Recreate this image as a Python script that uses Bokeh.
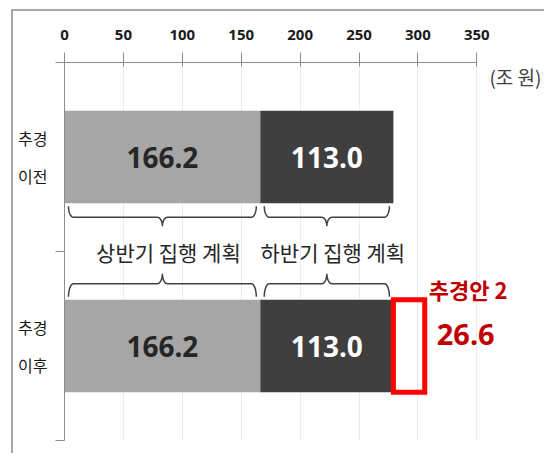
import numpy as np
from bokeh.plotting import figure
from bokeh.models import Range1d, FixedTicker
from bokeh.core.properties import value
from bokeh.embed import file_html
from bokeh.resources import INLINE

# ---------------- data ----------------
cat_line1 = ["추경", "추경"]
cat_line2 = ["이전", "이후"]
first_half = [166.2, 166.2]     # 상반기 집행 계획
second_half = [113.0, 113.0]    # 하반기 집행 계획
supplement = [0.0, 26.6]        # 추경안 2 (only after)
x_ticks = [0, 50, 100, 150, 200, 250, 300, 350]
unit_label = "(조 원)"
segment_names = ["상반기 집행 계획", "하반기 집행 계획"]
supp_name = "추경안 2"

# ---------------- layout ----------------
W, H = 533, 444
ML, MT, MR, MB = 51, 51, 0, 15
FW, FH = W - ML - MR, H - MT - MB
SX = 1.178                # desired px per x unit
X_END = FW / SX
sx = FW / X_END
sy = FH / 2.0            # px per y unit
ypos = [1.5, 0.5]        # bar centres (이전 at top)
BAR_H = 0.49

KR_S = "Noto Sans CJK KR"
NUM_S = "Noto Sans"
KR = value(KR_S)
NUM = value(NUM_S)

p = figure(width=W, height=H, x_range=Range1d(0, X_END), y_range=Range1d(0, 2),
           x_axis_location="above", output_backend="svg", toolbar_location=None,
           min_border_left=ML, min_border_top=MT, min_border_right=MR, min_border_bottom=MB)
p.outline_line_color = None
p.background_fill_color = "white"
p.border_fill_color = "white"
p.styles = {"border-top": "2px solid #a6a6a6", "border-left": "2px solid #a6a6a6",
            "margin-left": "11px", "margin-top": "9px"}

# x axis (top)
xa = p.xaxis[0]
xa.ticker = FixedTicker(ticks=x_ticks, minor_ticks=[])
xa.bounds = (min(x_ticks), max(x_ticks))
xa.axis_line_color = "#8c8c8c"
xa.major_tick_line_color = "#8c8c8c"
xa.major_tick_in = 4
xa.major_tick_out = 10
xa.minor_tick_line_color = None
xa.major_label_standoff = 13
xa.major_label_text_font = NUM_S
xa.major_label_text_font_style = "bold"
xa.major_label_text_font_size = "15px"
xa.major_label_text_color = "#1a1a1a"

# y axis (left)
ya = p.yaxis[0]
lab_ticks, lab_over = [], {}
for yc, l1, l2 in zip(ypos, cat_line1, cat_line2):
    lab_ticks += [yc + 0.1, yc - 0.1]
    lab_over[yc + 0.1] = l1
    lab_over[yc - 0.1] = l2
ya.ticker = FixedTicker(ticks=lab_ticks, minor_ticks=[0, 1, 2])
ya.major_label_overrides = lab_over
ya.major_tick_line_color = None
ya.major_tick_out = 0
ya.major_tick_in = 0
ya.minor_tick_line_color = "#8c8c8c"
ya.minor_tick_in = 0
ya.minor_tick_out = 9
ya.axis_line_color = "#8c8c8c"
ya.major_label_standoff = 8
ya.major_label_text_font = KR_S
ya.major_label_text_font_size = "16px"
ya.major_label_text_color = "#1a1a1a"

p.ygrid.visible = False
p.xgrid.ticker = FixedTicker(ticks=x_ticks)
p.xgrid.grid_line_color = "#ebebeb"

# bars
totals = [a + b for a, b in zip(first_half, second_half)]
p.hbar(y=ypos, left=0, right=first_half, height=BAR_H, fill_color="#a6a6a6", line_color=None)
p.hbar(y=ypos, left=first_half, right=totals, height=BAR_H, fill_color="#3f3f3f", line_color=None)

sup_y = [y for y, s in zip(ypos, supplement) if s > 0]
sup_l = [t for t, s in zip(totals, supplement) if s > 0]
sup_r = [t + s for t, s in zip(totals, supplement) if s > 0]
sup_v = [s for s in supplement if s > 0]
p.hbar(y=sup_y, left=sup_l, right=sup_r, height=BAR_H, fill_color=None,
       line_color="#ff0000", line_width=5, line_join="miter")

# value labels
p.text(x=[v / 2 for v in first_half], y=ypos, text=[f"{v:.1f}" for v in first_half],
       text_align="center", text_baseline="middle", text_font=NUM, text_font_style="bold",
       text_font_size="28px", text_color="#262626")
p.text(x=[(a + t) / 2 for a, t in zip(first_half, totals)], y=ypos,
       text=[f"{v:.1f}" for v in second_half],
       text_align="center", text_baseline="middle", text_font=NUM, text_font_style="bold",
       text_font_size="28px", text_color="white")

# supplement labels
p.text(x=sup_r, y=[y + 57 / sy for y in sup_y], text=[supp_name] * len(sup_y), x_offset=4,
       text_align="left", text_baseline="middle", text_font=KR, text_font_style="bold",
       text_font_size="22px", text_color="#c00000")
p.text(x=sup_r, y=[y + 12 / sy for y in sup_y], text=[f"{v:.1f}" for v in sup_v], x_offset=12,
       text_align="left", text_baseline="middle", text_font=NUM, text_font_style="bold",
       text_font_size="29px", text_color="#c00000")

# unit label
p.text(x=[X_END], y=[2 - 14 / sy], text=[unit_label], x_offset=-5,
       text_align="right", text_baseline="middle", text_font=KR,
       text_font_size="19px", text_color="#404040")


# braces between the two bars
def brace(x0, x1, y_end, y_line, y_cusp, r_px=5):
    rx = r_px / sx
    xc = (x0 + x1) / 2
    t = np.linspace(0, np.pi / 2, 12)
    xs, ys = [], []
    xs += list(x0 + rx * (1 - np.cos(t))); ys += list(y_end + (y_line - y_end) * np.sin(t))
    xs += list(xc - rx + rx * np.sin(t)); ys += list(y_line + (y_cusp - y_line) * (1 - np.cos(t)))
    xs += list(xc + rx - rx * np.sin(t[::-1])); ys += list(y_line + (y_cusp - y_line) * (1 - np.cos(t[::-1])))
    xs += list(x1 - rx * (1 - np.cos(t[::-1]))); ys += list(y_end + (y_line - y_end) * np.sin(t[::-1]))
    return xs, ys


inset = 4 / sx
seg_bounds = [(0, first_half[0]), (first_half[0], totals[0])]
bxs, bys = [], []
upper_edge = ypos[0] - BAR_H / 2
lower_edge = ypos[1] + BAR_H / 2
for a, b in seg_bounds:
    xs, ys = brace(a + inset, b - inset, upper_edge - 3 / sy, upper_edge - 14 / sy, upper_edge - 23 / sy)
    bxs.append(xs); bys.append(ys)
    xs, ys = brace(a + inset, b - inset, lower_edge + 3 / sy, lower_edge + 16 / sy, lower_edge + 26 / sy)
    bxs.append(xs); bys.append(ys)
p.multi_line(xs=bxs, ys=bys, line_color="#404040", line_width=1.5)

mid_y = (upper_edge + lower_edge) / 2
p.text(x=[(a + b) / 2 for a, b in seg_bounds], y=[mid_y] * 2, text=segment_names, x_offset=6,
       text_align="center", text_baseline="middle", text_font=KR,
       text_font_size="21px", text_color="#262626")

open("out.html", "w").write(file_html(p, INLINE))
